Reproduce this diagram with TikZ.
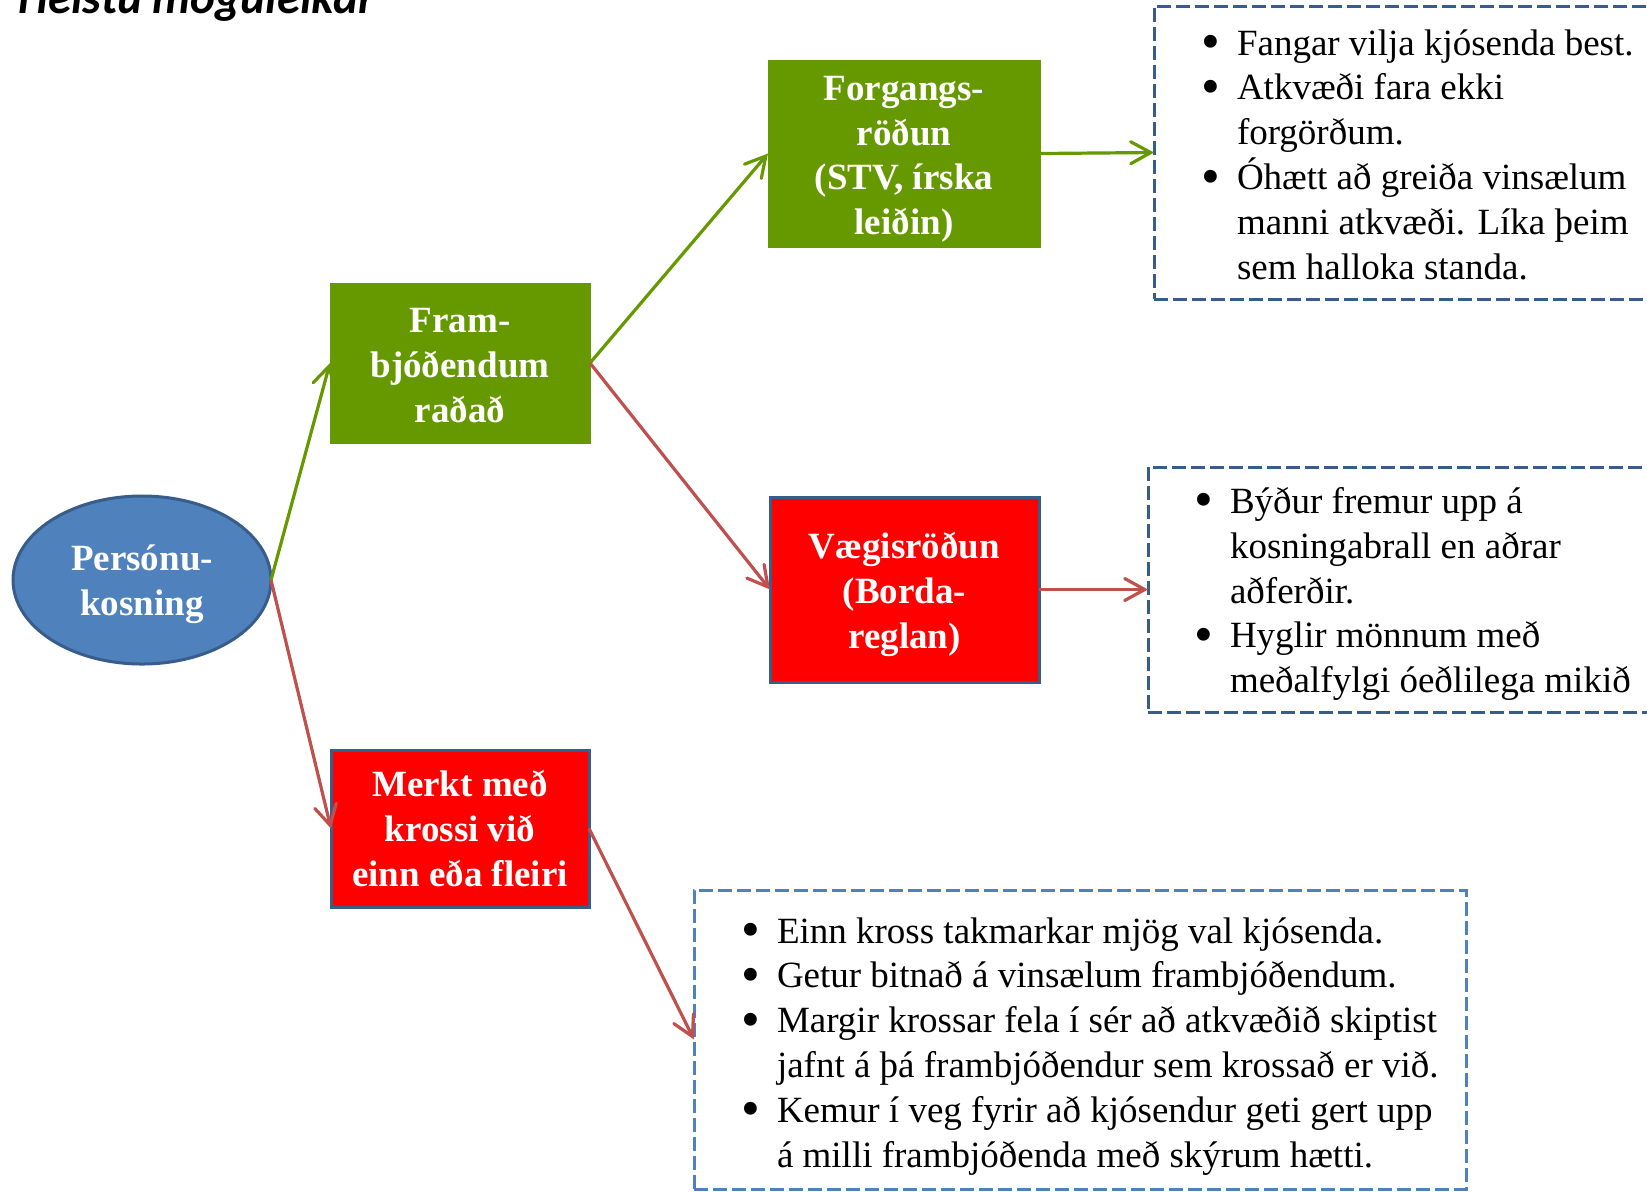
\documentclass[tikz,border=0pt]{standalone}
\usepackage{fontspec}
\usepackage{graphicx}
\setmainfont{Liberation Serif}
\newfontfamily\titlefont{Carlito}
\usetikzlibrary{arrows.meta,shapes.geometric}
\definecolor{grn}{HTML}{669900}
\definecolor{bdr}{HTML}{385D8A}
\definecolor{ellblue}{HTML}{4F81BD}
\definecolor{lblue}{HTML}{4F81BD}
\definecolor{rarr}{HTML}{C0504D}
\newcommand\boxfont{\fontsize{18.5}{22.4}\selectfont\bfseries}
\newcommand\listfont{\fontsize{18.5}{22.4}\selectfont}
\newcommand\bl{\makebox[18pt][l]{\raisebox{-2.2pt}{\scalebox{1.45}{\textbullet}}}}
\newcommand\ind{\hspace*{18pt}}
\tikzset{
  nodebox/.style={rectangle, inner sep=0pt, outer sep=0pt},
  grnbox/.style={nodebox, fill=grn, draw=grn, line width=0.5pt},
  redbox/.style={nodebox, fill=red, draw=bdr, line width=1.5pt},
  boxtext/.style={inner sep=0pt, text=white, font=\boxfont, align=center},
  infobox/.style={rectangle, inner sep=0pt, outer sep=0pt, line width=1.5pt, dash pattern=on 7pt off 2.5pt},
  conn/.style={line width=1.6pt, -{Straight Barb[length=10pt,width=11pt,line cap=round]}},
  gconn/.style={conn, draw=grn},
  rconn/.style={conn, draw=rarr},
  bulletlist/.style={anchor=base west, inner sep=0pt, outer sep=0pt, font=\listfont}
}
\begin{document}
\begin{tikzpicture}[x=0.5pt,y=-0.5pt]
\useasboundingbox (0,0) rectangle (1647,1191);
\clip (0,0) rectangle (1647,1191);
\fill[white] (0,0) rectangle (1647,1191);

\node[anchor=base west, inner sep=0pt, font=\titlefont\bfseries\itshape\fontsize{23.6}{27}\selectfont] (title) at (18,13) {Helstu möguleikar};

\node[ellipse, draw=bdr, fill=ellblue, line width=1.5pt, minimum width=129pt, minimum height=84pt, inner sep=0pt, outer sep=0pt] (pers) at (142,580) {};
\node[grnbox, minimum width=130pt, minimum height=80pt] (fram) at (460,363) {};
\node[grnbox, minimum width=136pt, minimum height=93.5pt] (forg) at (904,153.5) {};
\node[redbox, minimum width=134.5pt, minimum height=92.5pt] (vaeg) at (904.5,589.5) {};
\node[redbox, minimum width=129pt, minimum height=78.5pt] (merkt) at (460,828.5) {};

\node[boxtext] (perst) at (142,584.2) {Persónu-\\kosning};
\node[boxtext] (framt) at (460,365.5) {Fram-\\bjóðendum\\raðað};
\node[boxtext] (forgt) at (904,159.3) {Forgangs-\\röðun\\(STV, írska\\leiðin)};
\node[boxtext] (vaegt) at (904.5,594.2) {Vægisröðun\\(Borda-\\reglan)};
\node[boxtext] (merktt) at (460,828.5) {Merkt með\\krossi við\\einn eða fleiri};

\node[infobox, draw=bdr, minimum width=273pt, minimum height=146.5pt] (i1) at (1427,152.5) {};
\node[infobox, draw=bdr, minimum width=276pt, minimum height=122.5pt] (i2) at (1424,589.5) {};
\node[infobox, draw=lblue, minimum width=386pt, minimum height=149.5pt] (i3) at (1080,1039.5) {};

\node[bulletlist] (t1) at (1201,55) {\begin{tabular}[t]{@{}l@{}}
\bl Fangar vilja kjósenda best.\\
\bl Atkvæði fara ekki\\
\ind forgörðum.\\
\bl Óhætt að greiða vinsælum\\
\ind manni atkvæði. Líka þeim\\
\ind sem halloka standa.
\end{tabular}};
\node[bulletlist] (t2) at (1194,513.5) {\begin{tabular}[t]{@{}l@{}}
\bl Býður fremur upp á\\
\ind kosningabrall en aðrar\\
\ind aðferðir.\\
\bl Hyglir mönnum með\\
\ind meðalfylgi óeðlilega mikið
\end{tabular}};
\node[bulletlist] (t3) at (741,943) {\begin{tabular}[t]{@{}l@{}}
\bl Einn kross takmarkar mjög val kjósenda.\\
\bl Getur bitnað á vinsælum frambjóðendum.\\
\bl Margir krossar fela í sér að atkvæðið skiptist\\
\ind jafnt á þá frambjóðendur sem krossað er við.\\
\bl Kemur í veg fyrir að kjósendur geti gert upp\\
\ind á milli frambjóðenda með skýrum hætti.
\end{tabular}};

\draw[gconn] (pers.east) -- (fram.west);
\draw[gconn] (fram.east) -- (forg.west);
\draw[rconn] (fram.east) -- (vaeg.west);
\draw[rconn] (pers.east) -- (merkt.west);
\draw[rconn] (merkt.east) -- (i3.west);
\draw[gconn] (forg.east) -- (i1.west);
\draw[rconn] (vaeg.east) -- (i2.west);
\end{tikzpicture}
\end{document}
